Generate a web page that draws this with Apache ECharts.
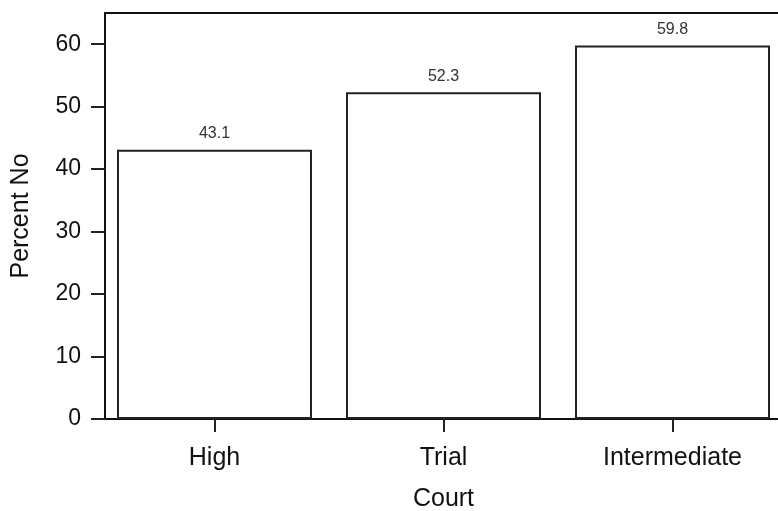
<!DOCTYPE html>
<html>
<head>
<meta charset="utf-8">
<script src="https://cdn.jsdelivr.net/npm/echarts@6/dist/echarts.min.js"></script>
<style>html,body{margin:0;padding:0;background:#fff}#c{width:778px;height:511px}</style>
</head>
<body>
<div id="c"></div>
<script>
var categories = ['High', 'Trial', 'Intermediate'];
var percentNo = [43.1, 52.3, 59.8];
var yTicks = [0, 10, 20, 30, 40, 50, 60];

var FONT = 'Liberation Sans, Arial, sans-serif';
var chart = echarts.init(document.getElementById('c'));
chart.setOption({
  animation: false,
  backgroundColor: '#fff',
  grid: [
    {left: 100, width: 687, top: 13, bottom: 92, outerBoundsMode: 'none', containLabel: false},
    {left: 105, width: 682, top: 13, bottom: 92, outerBoundsMode: 'none', containLabel: false}
  ],
  xAxis: [{
    type: 'category', gridIndex: 0, data: categories, boundaryGap: true,
    name: 'Court', nameLocation: 'middle', nameGap: 68,
    nameTextStyle: {fontFamily: FONT, fontSize: 25, color: '#111'},
    axisLine: {show: true, onZero: false, lineStyle: {color: '#111', width: 2}},
    axisTick: {show: true, alignWithLabel: true, length: 13, lineStyle: {color: '#222', width: 2}},
    axisLabel: {show: true, fontFamily: FONT, fontSize: 25, color: '#111', margin: 27}
  }, {
    type: 'category', gridIndex: 1, position: 'top', data: categories,
    axisLine: {show: true, onZero: false, lineStyle: {color: '#111', width: 2}},
    axisTick: {show: false}, axisLabel: {show: false}
  }],
  yAxis: [{
    type: 'value', gridIndex: 0, min: 0, max: 65, offset: -5,
    name: 'Percent No', nameLocation: 'middle', nameGap: 71, nameRotate: 90,
    nameTextStyle: {fontFamily: FONT, fontSize: 25, color: '#111'},
    axisLine: {show: true, lineStyle: {color: '#111', width: 2}},
    axisTick: {show: true, length: 14, customValues: yTicks, lineStyle: {color: '#222', width: 2}},
    axisLabel: {show: true, fontFamily: FONT, fontSize: 23, color: '#111', margin: 24, customValues: yTicks},
    splitLine: {show: false}
  }, {
    type: 'value', gridIndex: 1, min: 0, max: 65, show: false
  }],
  series: [{
    type: 'bar', xAxisIndex: 0, yAxisIndex: 0,
    data: percentNo, barWidth: 195,
    itemStyle: {color: '#fff', borderColor: '#222', borderWidth: 2},
    label: {show: true, position: 'top', distance: 8, fontFamily: FONT, fontSize: 16, color: '#333',
      formatter: function (p) { return p.value.toFixed(1); }}
  }]
});
</script>
</body>
</html>
